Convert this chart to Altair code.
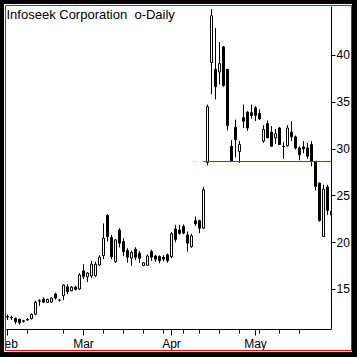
import altair as alt
import pandas as pd

# ---- data (trading-day index 0 = first trading day of Feb) ----
opens = [12.05, 12.0, 11.86, 11.75, 11.6, 11.7, 11.82, 12.3, 13.7, 13.93,
         13.57, 13.6, 14.46, 13.8, 14.28, 15.24, 14.81, 15.2, 15.0, 16.93,
         16.3, 16.4, 16.43, 17.56, 18.57, 22.85, 20.5, 17.92, 21.3, 20.07,
         19.1, 18.3, 19.25, 18.82, 17.5, 17.53, 19.0, 18.53, 18.46, 18.4,
         18.64, 18.46, 21.4, 21.3, 21.7, 20.78, 19.53, 22.3, 22.3, 21.5,
         28.53, 39.19, 38.47, 38.18, 40.86, 38.47, 30.25, 32.28, 29.7, 33.3,
         33.9, 33.83, 34.36, 33.75, 30.8, 32.68, 31.76, 31.15, 32.2, 30.25,
         30.3, 31.75, 31.25, 30.07, 30.18, 30.07, 30.43, 28.64, 26.32, 20.6,
         25.9, 23.3]
highs = [12.25, 12.15, 11.96, 11.85, 11.7, 11.9, 12.4, 13.75, 13.9, 14.1,
         13.95, 14.1, 14.6, 13.95, 15.5, 15.5, 15.3, 15.35, 16.7, 17.64,
         16.8, 18.0, 17.9, 18.6, 22.0, 23.0, 20.8, 20.3, 21.5, 20.45,
         19.36, 19.1, 19.46, 19.07, 17.85, 18.7, 19.2, 18.64, 18.6, 18.6,
         18.8, 21.1, 21.85, 21.85, 21.9, 21.14, 20.9, 22.74, 22.4, 25.9,
         34.7, 44.9, 42.9, 41.4, 40.96, 38.5, 30.9, 33.1, 30.8, 34.7,
         34.0, 34.7, 34.54, 34.2, 32.5, 33.0, 32.4, 32.1, 32.3, 30.7,
         32.5, 32.93, 31.4, 30.25, 30.8, 30.6, 30.8, 28.64, 26.4, 26.14,
         26.14, 23.5]
lows = [11.7, 11.7, 11.25, 11.2, 11.4, 11.6, 11.75, 12.2, 13.2, 13.5,
        13.5, 13.55, 13.85, 13.65, 13.8, 14.45, 14.75, 14.85, 14.9, 16.07,
        15.75, 16.15, 16.3, 17.45, 18.2, 20.07, 18.2, 17.8, 19.45, 18.5,
        17.8, 17.46, 18.1, 17.8, 17.45, 17.5, 18.0, 17.9, 17.75, 17.95,
        17.8, 18.3, 20.0, 20.8, 20.85, 19.0, 19.4, 21.75, 20.97, 21.4,
        28.2, 35.8, 35.25, 36.86, 36.6, 31.96, 28.6, 29.05, 28.47, 32.2,
        31.9, 33.2, 32.95, 33.05, 30.6, 31.15, 30.2, 30.5, 30.43, 28.9,
        30.2, 30.8, 29.9, 28.75, 29.5, 28.9, 28.1, 25.53, 22.2, 20.6,
        22.9, 22.8]
closes = [12.0, 11.95, 11.5, 11.4, 11.55, 11.75, 12.28, 13.57, 13.75, 13.6,
          13.89, 14.03, 14.03, 13.82, 15.42, 14.71, 15.2, 14.95, 16.5, 16.33,
          16.7, 17.67, 17.64, 18.4, 20.43, 20.6, 18.46, 20.25, 19.9, 19.0,
          18.4, 18.9, 18.4, 18.28, 17.8, 18.53, 18.4, 18.18, 18.03, 18.2,
          18.03, 20.9, 20.3, 20.95, 20.97, 19.9, 20.68, 21.96, 21.5, 25.6,
          34.47, 44.18, 36.6, 39.08, 36.75, 32.47, 28.64, 30.96, 30.43, 32.93,
          32.2, 33.54, 33.54, 33.18, 32.04, 31.15, 30.25, 31.6, 30.43, 30.2,
          32.2, 31.25, 30.07, 29.36, 29.96, 29.18, 28.64, 25.96, 22.32, 25.68,
          23.4, 22.9]

month_labels = ["Feb", "Mar", "Apr", "May"]
month_starts = [0, 19, 41, 62]
week_ticks = [5, 14, 24, 29, 34, 39, 44, 48, 53, 58, 63, 68, 73]
y_ticks = [15, 20, 25, 30, 35, 40]
title_text = "Infoseek Corporation\u00a0 o-Daily"
support_level = [28.62]
support_from = [49.1]
support_to = [82]

FONT = "Liberation Sans"

df = pd.DataFrame({"i": list(range(len(opens))), "open": opens, "high": highs,
                   "low": lows, "close": closes})
df["body_lo"] = df[["open", "close"]].min(axis=1)
df["body_hi"] = df[["open", "close"]].max(axis=1)

x_scale = alt.Scale(domain=[-0.25, 81.0], nice=False, zero=False, padding=0)
y_scale = alt.Scale(domain=[10.725, 45.235], nice=False, zero=False, padding=0)

label_expr = "".join(
    f"datum.value == {p} ? '{m}' : " for p, m in zip(month_starts, month_labels)
) + "''"
major_test = "indexof([" + ",".join(str(p) for p in month_starts) + "], datum.value) >= 0"

x_axis = alt.Axis(
    values=sorted(month_starts + week_ticks), labelExpr=label_expr,
    tickSize={"condition": {"test": major_test, "value": 6}, "value": 4},
    domainColor="black", tickColor="black", labelColor="black",
    labelFont=FONT, labelFontSize=12, labelPadding=3, labelAlign="center",
    labelFlush=False, labelOverlap=False, grid=False, title=None, zindex=0,
)
y_axis = alt.Axis(
    orient="right", values=y_ticks, domainColor="black", tickColor="black",
    tickSize=4, labelColor="black", labelFont=FONT, labelFontSize=12,
    labelPadding=1, labelFlush=False, labelOverlap=False, grid=False, title=None,
    zindex=0,
)

wicks = alt.Chart(df).mark_rule(color="black", strokeWidth=1, xOffset=0.5, clip=True).encode(
    x=alt.X("i:Q", scale=x_scale, axis=x_axis),
    y=alt.Y("low:Q", scale=y_scale, axis=y_axis),
    y2="high:Q",
)

bodies = alt.Chart(df).mark_bar(size=2, stroke="black", strokeWidth=1, xOffset=0.5, clip=True).encode(
    x=alt.X("i:Q", scale=x_scale, axis=x_axis),
    y=alt.Y("body_lo:Q", scale=y_scale, axis=y_axis),
    y2="body_hi:Q",
    fill=alt.condition("datum.close >= datum.open", alt.value("white"), alt.value("black")),
)

hline_df = pd.DataFrame({"x": support_from, "x2": support_to, "y": support_level})
hline = alt.Chart(hline_df).mark_rule(color="#ff0000", strokeWidth=1, clip=True).encode(
    x=alt.X("x:Q", scale=x_scale, axis=x_axis), x2="x2:Q",
    y=alt.Y("y:Q", scale=y_scale, axis=y_axis)
)

title_df = pd.DataFrame({"t": [title_text]})
title_mark = alt.Chart(title_df).mark_text(
    align="left", baseline="alphabetic", font=FONT, fontSize=13, color="black"
).encode(x=alt.value(0.5), y=alt.value(13.3), text="t:N")

one = pd.DataFrame({"a": [0]})
frame_black = alt.Chart(one).mark_rect(fill="transparent", stroke="black", strokeWidth=10).encode(
    x=alt.value(-7), x2=alt.value(351), y=alt.value(-7), y2=alt.value(351)
)
frame_red = alt.Chart(one).mark_rect(fill="transparent", stroke="#ff0000", strokeWidth=1).encode(
    x=alt.value(-0.5), x2=alt.value(345.5), y=alt.value(-0.5), y2=alt.value(344.5)
)

chart = alt.layer(wicks, bodies, hline, title_mark, frame_black, frame_red).properties(
    width=325, height=323,
    autosize=alt.AutoSizeParams(type="none"),
    padding={"left": 6, "top": 6, "right": 26, "bottom": 28},
    background="white",
).configure_view(stroke="transparent").configure_axisX(
    labelFlush=False, labelOverlap=False, labelAlign="center"
).configure_axisY(labelOverlap=False)

chart.save("out.html", embed_options={"renderer": "svg", "actions": False})
